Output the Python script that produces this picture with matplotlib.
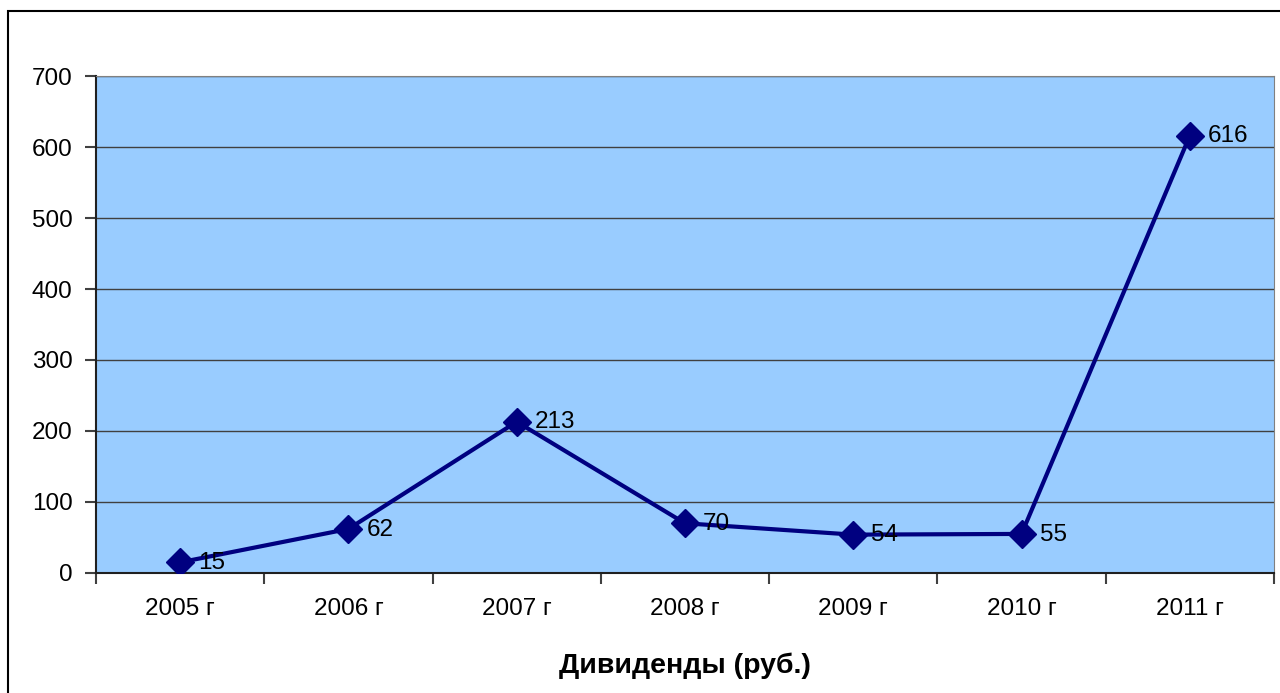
import matplotlib.pyplot as plt
from matplotlib.patches import Rectangle

years = ['2005 г', '2006 г', '2007 г', '2008 г', '2009 г', '2010 г', '2011 г']
dividends = [15, 62, 213, 70, 54, 55, 616]

plt.rcParams['font.family'] = ['Liberation Sans', 'DejaVu Sans']

fig = plt.figure(figsize=(12.8, 6.93), dpi=100)
ax = fig.add_axes([0.075, 0.1732, 0.9203, 0.7171])

# outer chart border (right and bottom edges are cut off in the original)
fig.patches.append(Rectangle((8 / 1280, -0.1), 1.2, 0.1 + (1 - 11 / 693),
                             transform=fig.transFigure, fill=False,
                             edgecolor='black', linewidth=1.5))

ax.set_facecolor('#99CCFF')
x = range(len(years))
ax.plot(x, dividends, color='#000080', linewidth=3, marker='D',
        markersize=14, zorder=3)
for xi, v in zip(x, dividends):
    ax.annotate(str(v), (xi, v), xytext=(13, -0.5), textcoords='offset points',
                va='center', ha='left', fontsize=17.5, zorder=4)

ax.set_xlim(-0.5, len(years) - 0.5)
ax.set_ylim(0, 700)
ax.set_yticks(range(0, 701, 100))
ax.set_xticks([i + 0.5 for i in range(-1, len(years))])
ax.set_xticklabels([])
ax.set_xticks(list(x), minor=True)
ax.set_xticklabels(years, minor=True, fontsize=17.5)
ax.tick_params(axis='x', which='minor', length=0, pad=18)
ax.tick_params(axis='x', which='major', length=8, color='#404040', width=1.5)
ax.tick_params(axis='y', length=8, color='#404040', width=1.5, labelsize=17.5, pad=9)
ax.grid(axis='y', color='#404040', linewidth=1)
ax.set_axisbelow(True)

for side in ['left', 'bottom']:
    ax.spines[side].set_color('#202020')
    ax.spines[side].set_linewidth(1.5)
ax.spines['top'].set_color('#808080')
ax.spines['right'].set_color('#808080')

ax.set_xlabel('Дивиденды (руб.)', fontsize=20.5, fontweight='bold', labelpad=23.5)

fig.savefig('out.png', dpi=100)
